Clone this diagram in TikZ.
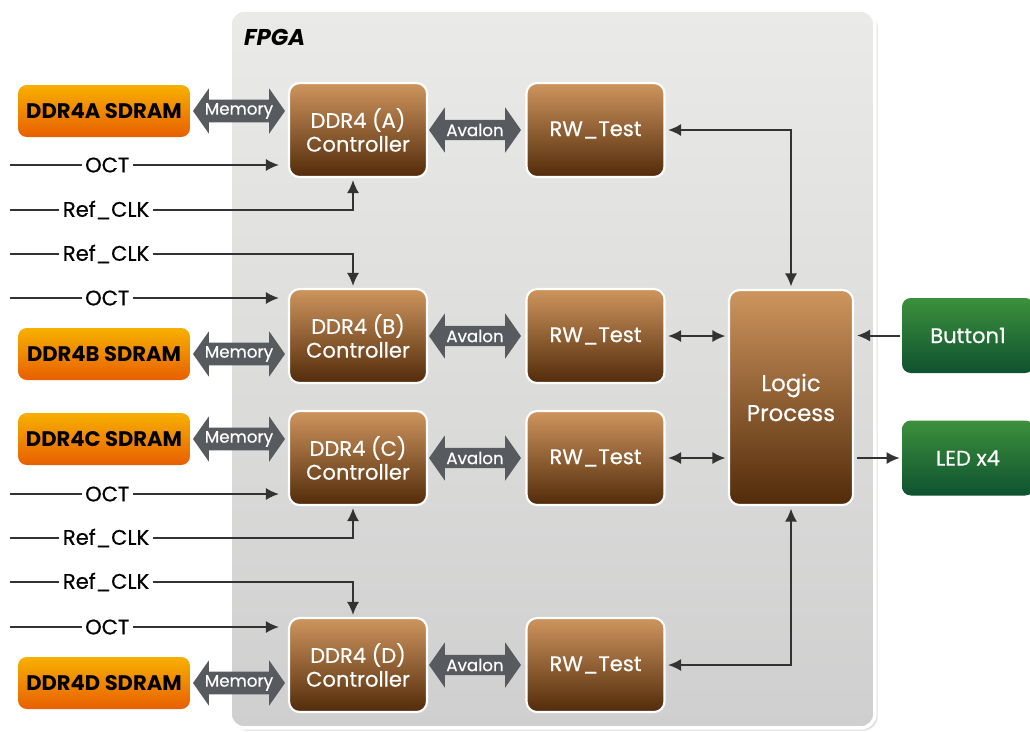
\documentclass[tikz,border=0pt]{standalone}
\usepackage{fontspec}
\setmainfont{Poppins}
\usetikzlibrary{positioning,calc,shapes.arrows,shadows,arrows.meta}
\definecolor{ramtop}{HTML}{F7B000}
\definecolor{rambot}{HTML}{E85F00}
\definecolor{ctrltop}{HTML}{CE955E}
\definecolor{ctrlbot}{HTML}{522B0A}
\definecolor{iotop}{HTML}{3C903C}
\definecolor{iobot}{HTML}{0E5230}
\definecolor{fpgatop}{HTML}{EAEBE8}
\definecolor{fpgabot}{HTML}{CFCFCF}
\definecolor{busgray}{HTML}{575A5F}
\definecolor{wire}{HTML}{333333}
\newcommand{\medwt}{\addfontfeatures{FakeBold=0.5}}

\begin{document}
\begin{tikzpicture}[x=0.02cm, y=-0.02cm,
  >={Latex[length=7.5pt,width=7pt]},
  fpgabox/.style={rounded corners=8pt, draw=white, line width=2pt, top color=fpgatop, bottom color=fpgabot,
    drop shadow={opacity=0.25, shadow xshift=1.5pt, shadow yshift=-1.5pt}, minimum width=12.9cm, minimum height=14.36cm, inner sep=0pt},
  ctrlbox/.style={rounded corners=6pt, draw=white, line width=1.2pt, top color=ctrltop, bottom color=ctrlbot,
    text=white, align=center, font=\fontsize{12}{13.5}\selectfont\medwt, minimum width=2.76cm, minimum height=1.88cm, inner sep=0pt},
  ramchip/.style={rounded corners=5pt, top color=ramtop, bottom color=rambot, text=black,
    font=\bfseries\fontsize{12}{14}\selectfont, minimum width=3.44cm, minimum height=1.04cm, inner sep=0pt},
  iobox/.style={rounded corners=5pt, top color=iotop, bottom color=iobot, text=white,
    font=\fontsize{12}{14}\selectfont\medwt, minimum width=2.64cm, minimum height=1.5cm, inner sep=0pt},
  busarrow/.style={double arrow, double arrow tip angle=110, double arrow head extend=0.16cm, fill=busgray,
    text=white, font=\fontsize{9.5}{11}\selectfont\medwt, inner xsep=0pt, inner ysep=0pt, minimum height=1.84cm, minimum width=0.9cm},
  sig/.style={draw=wire, line width=1.15pt},
  siglbl/.style={fill=white, inner xsep=2pt, inner ysep=1pt, text=black, font=\fontsize{12}{14}\selectfont\medwt},
]
\useasboundingbox (0,0) rectangle (1030,731);
% FPGA die
\node[fpgabox] (fpga) at (552.5,369) {};
\node[anchor=west, font=\bfseries\itshape\fontsize{13}{15}\selectfont] (fpgalbl) at (238,37) {FPGA};

% four memory channels
\foreach \c/\yc/\ys in {A/130/111, B/336/354, C/458/439, D/665/683} {
  \node[ramchip] (ram\c) at (104,\ys) {DDR4\c\ SDRAM};
  \node[ctrlbox] (ctrl\c) at (358,\yc) {DDR4 (\c)\\Controller};
  \node[ctrlbox] (rw\c) at (595.5,\yc) {RW\_Test};
  \node[busarrow] (mem\c) at (239,\ys) {Memory};
  \node[busarrow] (av\c) at (475,\yc) {Avalon};
}

% OCT and Ref_CLK inputs
\foreach \c/\yo/\yr/\side in {A/165/210/south, B/298/254/north, C/494/538/south, D/627/582/north} {
  \coordinate (oct\c) at (10,\yo);
  \coordinate (clk\c) at (10,\yr);
  \draw[sig, ->, shorten >=0.18cm] (oct\c) -- node[siglbl, pos=0.35] {OCT} (oct\c -| ctrl\c.west);
  \draw[sig, ->, shorten >=0.04cm] (clk\c) -| node[siglbl, pos=0.14] {Ref\_CLK} ([xshift=-0.1cm]ctrl\c.\side);
}

% logic and board I/O
\node[ctrlbox, font=\fontsize{13}{17}\selectfont\medwt, minimum width=2.48cm, minimum height=4.3cm] (logic) at (791,397.5) {Logic\\Process};
\node[iobox] (btn) at (968,335.5) {Button1};
\node[iobox] (led) at (968,458) {LED x4};

\draw[sig, <->, shorten <=0.05cm, shorten >=0.05cm] (rwA.east) -| (logic.north);
\draw[sig, <->, shorten <=0.05cm, shorten >=0.05cm] (rwB.east) -- (rwB.east -| logic.west);
\draw[sig, <->, shorten <=0.05cm, shorten >=0.05cm] (rwC.east) -- (rwC.east -| logic.west);
\draw[sig, <->, shorten <=0.05cm, shorten >=0.05cm] (rwD.east) -| (logic.south);
\draw[sig, ->, shorten <=0.04cm, shorten >=0.06cm] (btn.west) -- (btn.west -| logic.east);
\draw[sig, ->, shorten <=0.06cm, shorten >=0.04cm] (led.west -| logic.east) -- (led.west);
\end{tikzpicture}
\end{document}
